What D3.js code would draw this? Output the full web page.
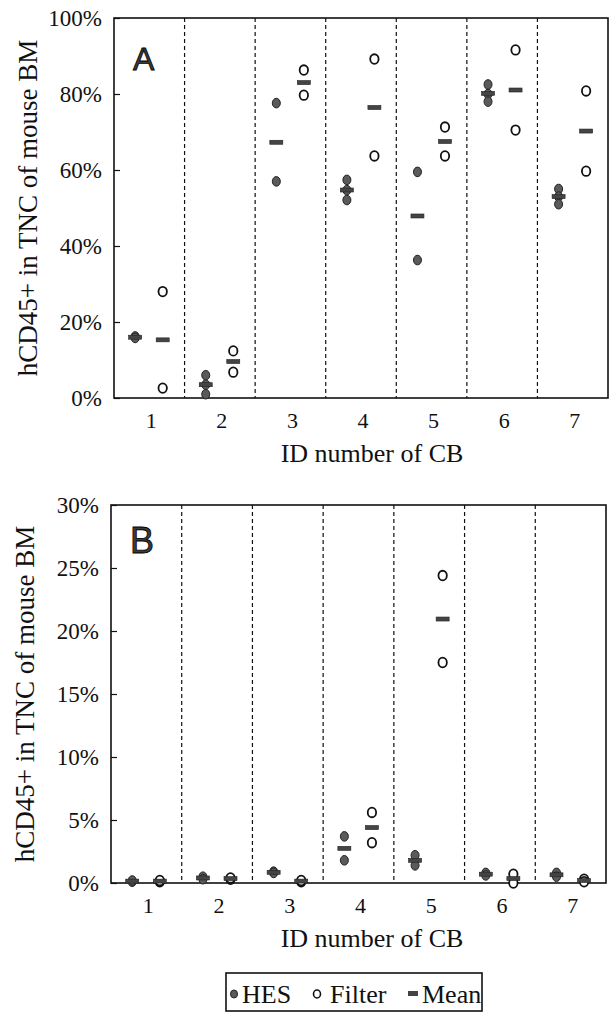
<!DOCTYPE html>
<html>
<head>
<meta charset="utf-8">
<script src="https://cdn.jsdelivr.net/npm/d3@7"></script>
<style>
  body { margin: 0; background: #fff; }
  svg { display: block; font-family: "Liberation Serif", "Times New Roman", serif; }
</style>
</head>
<body>
<svg id="chart" width="610" height="1013"></svg>
<script>
// cord blood IDs
const ids = [1, 2, 3, 4, 5, 6, 7];

// panel A: hCD45+ in TNC of mouse BM (%)
const hesA = [[16.2, 15.8], [6, 3.5, 1], [77.6, 57], [57.4, 54.7, 52.1], [59.5, 36.3], [82.5, 80, 78], [55, 53, 51]];
const filterA = [[28, 2.6], [12.4, 6.8], [86.3, 79.7], [89.2, 63.7], [71.3, 63.7], [91.6, 70.5], [80.8, 59.7]];
const ticksA = [0, 20, 40, 60, 80, 100];

// panel B
const hesB = [[0.1, 0.2], [0.5, 0.3], [0.9, 0.8], [3.7, 1.8], [2.2, 1.4], [0.8, 0.6], [0.8, 0.5]];
const filterB = [[0.1, 0.2], [0.3, 0.4], [0.1, 0.2], [5.6, 3.2], [24.4, 17.5], [0.7, 0.0], [0.3, 0.1]];
const ticksB = [0, 5, 10, 15, 20, 25, 30];

const svg = d3.select("#chart");

function drawPanel(cfg) {
  const { left, right, top, bottom, hes, filter, ticks, maxY, label, labelSize } = cfg;
  const g = svg.append("g");

  const x = d3.scaleBand().domain(ids).range([left, right]);
  const y = d3.scaleLinear().domain([0, maxY]).range([bottom, top]);
  const bw = x.bandwidth();

  // dashed separators
  g.selectAll(".sep")
    .data(ids.slice(1))
    .join("line")
    .attr("x1", (d) => x(d))
    .attr("x2", (d) => x(d))
    .attr("y1", top)
    .attr("y2", bottom)
    .attr("stroke", "#111")
    .attr("stroke-width", 1.2)
    .attr("stroke-dasharray", "4,3");

  // frame
  g.append("rect")
    .attr("x", left)
    .attr("y", top)
    .attr("width", right - left)
    .attr("height", bottom - top)
    .attr("fill", "none")
    .attr("stroke", "#111")
    .attr("stroke-width", 1.6);

  // y axis
  const yAxis = g.append("g")
    .attr("transform", `translate(${left},0)`)
    .call(d3.axisLeft(y).tickValues(ticks).tickFormat((d) => d + "%").tickSizeInner(-6).tickSizeOuter(0).tickPadding(12));
  yAxis.select(".domain").remove();
  yAxis.selectAll("line").attr("stroke", "#111").attr("stroke-width", 1.2);
  yAxis.selectAll("text").attr("font-size", 23).attr("fill", "#111")
    .attr("font-family", "Liberation Serif, serif");

  // x axis
  const xAxis = g.append("g")
    .attr("transform", `translate(2,${bottom})`)
    .call(d3.axisBottom(x).tickSize(0).tickPadding(14));
  xAxis.select(".domain").remove();
  xAxis.selectAll("text").attr("font-size", 22).attr("fill", "#111")
    .attr("font-family", "Liberation Serif, serif");

  // titles
  g.append("text")
    .attr("x", 372)
    .attr("y", bottom + 64)
    .attr("text-anchor", "middle")
    .attr("font-size", 26)
    .attr("fill", "#111")
    .text("ID number of CB");
  g.append("text")
    .attr("transform", `translate(${cfg.yTitleX},${(top + bottom) / 2}) rotate(-90)`)
    .attr("text-anchor", "middle")
    .attr("font-size", 27)
    .attr("fill", "#111")
    .text("hCD45+ in TNC of mouse BM");

  // panel letter
  g.append("text")
    .attr("x", left + 19)
    .attr("y", top + (label === "A" ? 52 : 48))
    .attr("font-family", "Liberation Sans, Arial, sans-serif")
    .attr("font-size", labelSize)
    .attr("fill", "#3a3a3a")
    .attr("stroke", "#000")
    .attr("stroke-width", 0.8)
    .text(label);

  const hesX = (i) => x(ids[i]) + bw * 0.3;
  const filX = (i) => x(ids[i]) + bw * 0.69;

  // HES points
  const hesPts = hes.flatMap((vals, i) => vals.map((v) => ({ i, v })));
  g.selectAll(".hes")
    .data(hesPts)
    .join("ellipse")
    .attr("cx", (d) => hesX(d.i))
    .attr("cy", (d) => y(d.v))
    .attr("rx", 4)
    .attr("ry", 4.8)
    .attr("fill", "#5a5a5a")
    .attr("stroke", "#222")
    .attr("stroke-width", 1);

  // Filter points
  const filPts = filter.flatMap((vals, i) => vals.map((v) => ({ i, v })));
  g.selectAll(".fil")
    .data(filPts)
    .join("ellipse")
    .attr("cx", (d) => filX(d.i))
    .attr("cy", (d) => y(d.v))
    .attr("rx", 4.2)
    .attr("ry", 4.8)
    .attr("fill", "#fff")
    .attr("stroke", "#111")
    .attr("stroke-width", 1.8);

  // means
  const means = hes.map((vals, i) => ({ cx: hesX(i), v: d3.mean(vals) }))
    .concat(filter.map((vals, i) => ({ cx: filX(i), v: d3.mean(vals) })));
  g.selectAll(".mean")
    .data(means)
    .join("rect")
    .attr("x", (d) => d.cx - 6.5)
    .attr("y", (d) => y(d.v) - 2)
    .attr("width", 13)
    .attr("height", 4)
    .attr("fill", "#444")
    .attr("stroke", "#222")
    .attr("stroke-width", 0.6);
}

drawPanel({ left: 114, right: 608, top: 18, bottom: 398, hes: hesA, filter: filterA, ticks: ticksA, maxY: 100, label: "A", labelSize: 32, yTitleX: 37 });
drawPanel({ left: 111, right: 606, top: 505, bottom: 883, hes: hesB, filter: filterB, ticks: ticksB, maxY: 30, label: "B", labelSize: 36, yTitleX: 34 });

// legend
const legendItems = ["HES", "Filter", "Mean"];
const leg = svg.append("g");
leg.append("rect")
  .attr("x", 226)
  .attr("y", 973)
  .attr("width", 256)
  .attr("height", 38)
  .attr("fill", "#fff")
  .attr("stroke", "#111")
  .attr("stroke-width", 1.6);
const legX = [242, 330, 422];
leg.selectAll("text")
  .data(legendItems)
  .join("text")
  .attr("x", (d, i) => legX[i])
  .attr("y", 1003)
  .attr("font-size", 26)
  .attr("fill", "#111")
  .text((d) => d);
leg.append("ellipse").attr("cx", 234).attr("cy", 994).attr("rx", 3.5).attr("ry", 4)
  .attr("fill", "#5a5a5a").attr("stroke", "#222");
leg.append("ellipse").attr("cx", 317).attr("cy", 994).attr("rx", 3.5).attr("ry", 4)
  .attr("fill", "#fff").attr("stroke", "#111").attr("stroke-width", 1.6);
leg.append("rect").attr("x", 408).attr("y", 991).attr("width", 10).attr("height", 5)
  .attr("fill", "#444");
</script>
</body>
</html>
